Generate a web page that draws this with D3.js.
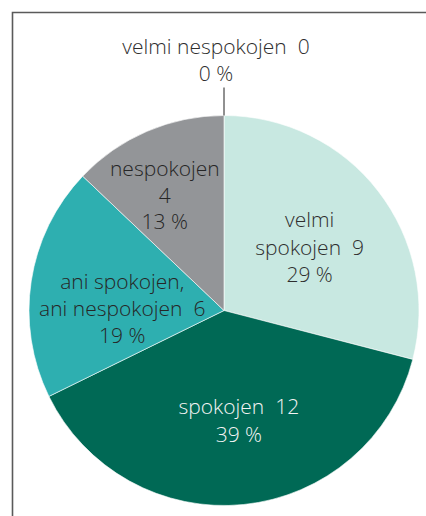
<!DOCTYPE html>
<html>
<head>
<meta charset="utf-8">
<script src="https://cdn.jsdelivr.net/npm/d3@7"></script>
<style>
  html, body { margin: 0; padding: 0; background: #fff; }
  svg { display: block; }
  text { font-family: "Open Sans", "Noto Sans", sans-serif; font-weight: 300; white-space: pre; }
</style>
</head>
<body>
<svg id="chart" width="426" height="516"></svg>
<script>
// ---- data ----
const categories = ["velmi spokojen", "spokojen", "ani spokojen, ani nespokojen", "nespokojen", "velmi nespokojen"];
const values = [9, 12, 6, 4, 0];
const percentLabels = ["29 %", "39 %", "19 %", "13 %", "0 %"];
const colors = ["#c8e8e1", "#006955", "#2eafb0", "#939598", "#7a7a7a"];
const textColors = ["#2e2e2e", "#f4f4f4", "#262626", "#262626", "#2e2e2e"];
// label line text (name + value wrapped as in the reference)
const labelLines = [
  ["velmi", "spokojen  9", "29 %"],
  ["spokojen  12", "39 %"],
  ["ani spokojen,", "ani nespokojen  6", "19 %"],
  ["nespokojen", "4", "13 %"],
  ["velmi nespokojen  0", "0 %"]
];

const svg = d3.select("#chart");
const W = 426, H = 516;

// frame
svg.append("path")
  .attr("d", `M12.5,${H} V12.5 H${W}`)
  .attr("fill", "none").attr("stroke", "#5a5a5a").attr("stroke-width", 1.6);

const cx = 224, cy = 310.5, R = 195;
const g = svg.append("g").attr("transform", `translate(${cx},${cy})`);

const data = categories.map((c, i) => ({ name: c, value: values[i], i }));
const pie = d3.pie().sort(null).value(d => d.value).startAngle(0).endAngle(2 * Math.PI);
const arcs = pie(data);
const arc = d3.arc().innerRadius(0).outerRadius(R);
const labelArc = d3.arc().innerRadius(107).outerRadius(107);

g.selectAll("path.slice")
  .data(arcs.filter(a => a.data.value > 0))
  .join("path")
  .attr("class", "slice")
  .attr("d", arc)
  .attr("fill", d => colors[d.data.i])
  .attr("stroke", "#ffffff")
  .attr("stroke-width", 0.6);

// inside label adjustments relative to centroid
const labelShift = {
  "velmi spokojen": [1, 2],
  "spokojen": [4, 3.5],
  "ani spokojen, ani nespokojen": [4, 14],
  "nespokojen": [-17, -17]
};
const lineH = {
  "velmi spokojen": 27.5,
  "spokojen": 28,
  "ani spokojen, ani nespokojen": 27,
  "nespokojen": 26.5
};
const FS = 21;

arcs.forEach(a => {
  const i = a.data.i;
  const lines = labelLines[i];
  if (a.data.value > 0) {
    const [x0, y0] = labelArc.centroid(a);
    const s = labelShift[a.data.name];
    const x = x0 + s[0], y = y0 + s[1];
    const lh = lineH[a.data.name];
    const t = g.append("text")
      .attr("text-anchor", "middle")
      .attr("font-size", FS)
      .attr("fill", textColors[i]);
    lines.forEach((ln, k) => {
      t.append("tspan")
        .attr("x", x)
        .attr("y", y + (k - (lines.length - 1) / 2) * lh + 7.5)
        .text(ln);
    });
  } else {
    // zero slice: leader line from the rim outward, label above
    const ang = a.startAngle;
    const px = R * Math.sin(ang), py = -R * Math.cos(ang);
    const ex = (R + 28) * Math.sin(ang), ey = -(R + 28) * Math.cos(ang);
    g.append("line")
      .attr("x1", px).attr("y1", py).attr("x2", ex).attr("y2", ey)
      .attr("stroke", "#222").attr("stroke-width", 1);
    const t = g.append("text")
      .attr("text-anchor", "middle")
      .attr("font-size", FS)
      .attr("fill", textColors[i]);
    lines.forEach((ln, k) => {
      t.append("tspan")
        .attr("x", ex - 8)
        .attr("y", ey - 33.5 + k * 26.5)
        .text(ln);
    });
  }
});
</script>
</body>
</html>
